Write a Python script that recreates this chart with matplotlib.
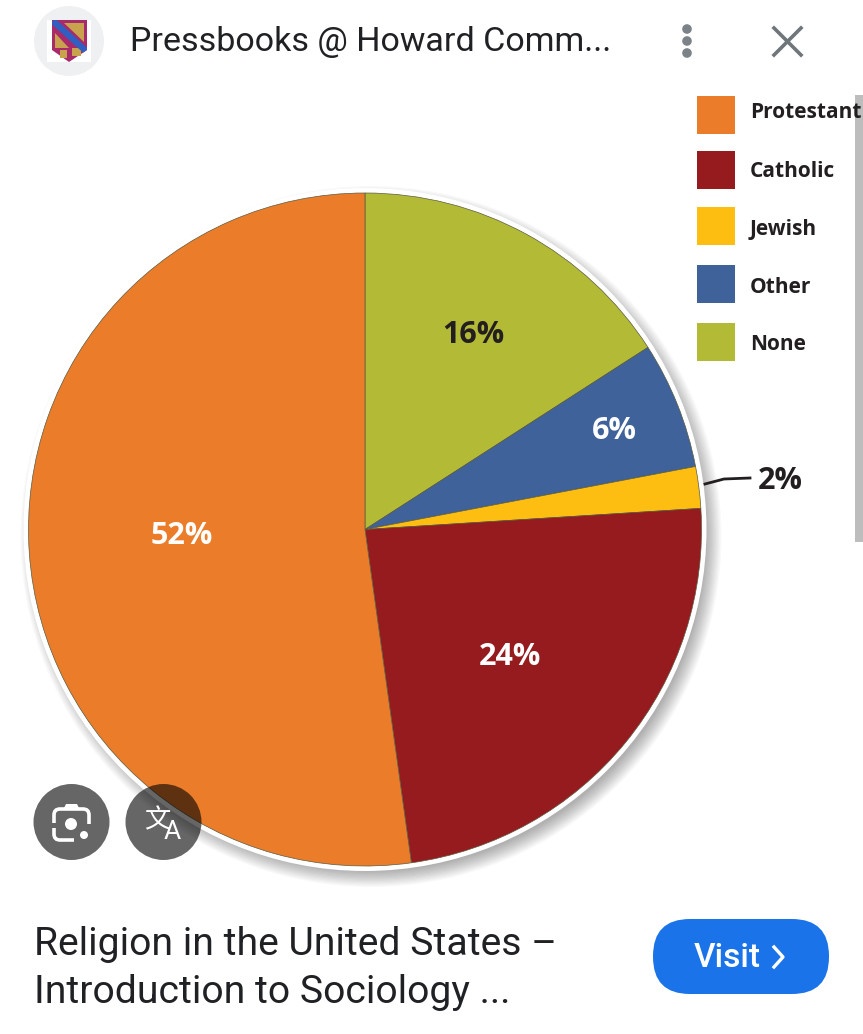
import matplotlib
matplotlib.use("Agg")
import matplotlib.pyplot as plt
from matplotlib.patches import Circle, FancyBboxPatch, Polygon, Rectangle

# Chart data
categories = ["None", "Other", "Jewish", "Catholic", "Protestant"]
shares = [15.9, 6.1, 2, 23.8, 52.2]
share_labels = ["16%", "6%", "2%", "24%", "52%"]
slice_colors = ["#b3ba36", "#3e6299", "#fdbe11", "#961b1f", "#eb7d2a"]
legend_order = ["Protestant", "Catholic", "Jewish", "Other", "None"]
header_title = "Pressbooks @ Howard Comm..."
page_title = ["Religion in the United States \u2013", "Introduction to Sociology ..."]

W, H = 863, 1034
CX, CY, R = 365, 504.5, 336.5

fig = plt.figure(figsize=(W / 100, H / 100), dpi=100)
ax = fig.add_axes([0, 0, 1, 1])
ax.set_axis_off()

# Shadow and white rim under the pie
for i in range(14):
    ax.add_patch(Circle((CX + 6, CY - 7), R + 14 - i * 1.2, fc="black", ec="none", alpha=0.024, zorder=1))
ax.add_patch(Circle((CX, CY), R + 5, fc="white", ec="none", zorder=2))

wedges, _ = ax.pie(shares, colors=slice_colors, startangle=90, counterclock=False,
                   center=(CX, CY), radius=R, frame=True,
                   wedgeprops={"edgecolor": "#5a5a40", "linewidth": 0.5, "zorder": 3})
ax.set_xlim(0, W)
ax.set_ylim(0, H)
ax.set_aspect("equal")
ax.set_axis_off()


def px(x, y):
    return x, H - y


# Percent labels
pct_font = dict(family="Open Sans", fontweight="bold", fontsize=22, ha="center", va="baseline", zorder=6)
ax.text(*px(473, 343), share_labels[0], color="#231f20", **pct_font)
ax.text(*px(614, 439), share_labels[1], color="white", **pct_font)
ax.text(*px(780, 489), share_labels[2], color="#231f20", **pct_font)
ax.text(*px(510, 665), share_labels[3], color="white", **pct_font)
ax.text(*px(182, 544), share_labels[4], color="white", **pct_font)
ax.plot(*zip(px(705, 484), px(724, 479), px(750, 478)), color="#231f20", lw=2, zorder=6)

# Scrollbar
ax.add_patch(Rectangle(px(855, 542), 8, 447, fc="#bdbdbd", ec="none", zorder=5))

# Legend
legend_tops = [96, 151, 207, 265, 323]
legend_baselines = [118, 177, 235, 293, 350]
for name, top, base in zip(legend_order, legend_tops, legend_baselines):
    color = slice_colors[categories.index(name)]
    ax.add_patch(Rectangle(px(697, top + 38), 38, 38, fc=color, ec="none", zorder=6))
    ax.text(*px(750, base), name, family="Open Sans", fontweight="bold", fontsize=15,
            color="#231f20", ha="left", va="baseline", zorder=6)

# Header
ax.add_patch(Rectangle(px(0, 95), W, 95, fc="white", ec="none", zorder=8))
ax.add_patch(Circle(px(69, 41), 35, fc="#eef0f2", ec="none", zorder=9))
ax.add_patch(Rectangle(px(47, 62), 44, 42, fc="white", ec="none", zorder=9))
crest = Polygon([px(52, 20), px(87, 20), px(87, 50), px(69, 62), px(52, 50)], fc="#a82a6b", ec="none", zorder=10)
ax.add_patch(crest)
gold = "#c9a24e"
ax.add_patch(Polygon([px(55, 33), px(69, 48), px(55, 48)], fc=gold, ec="none", zorder=10))
ax.add_patch(Polygon([px(64, 23), px(84, 23), px(84, 42)], fc=gold, ec="none", zorder=10))
ax.add_patch(Rectangle(px(60, 58), 7, 8, fc=gold, ec="none", zorder=10))
ax.add_patch(Rectangle(px(72, 56), 9, 8, fc=gold, ec="none", zorder=10))
band, = ax.plot(*zip(px(53, 21), px(87, 52)), color="#2f5fc0", lw=4.5, solid_capstyle="butt", zorder=11)
band.set_clip_path(crest)
ax.text(*px(130, 51), header_title, family="Roboto", fontsize=24.5, color="#202124", ha="left", va="baseline", zorder=10)
for y in [29, 41, 53]:
    ax.add_patch(Circle(px(687, y), 4.8, fc="#7b8389", ec="none", zorder=10))
ax.plot(*zip(px(774, 28), px(801, 55)), color="#6f767b", lw=2.6, zorder=10)
ax.plot(*zip(px(801, 28), px(774, 55)), color="#6f767b", lw=2.6, zorder=10)

# Overlay buttons on the image
ax.add_patch(Circle(px(71.5, 822), 38, fc="black", ec="none", alpha=0.6, zorder=12))
ax.add_patch(Circle(px(163.5, 822), 38, fc="black", ec="none", alpha=0.6, zorder=12))
ax.add_patch(FancyBboxPatch(px(54, 840), 35, 31, boxstyle="round,pad=0,rounding_size=6", fc="none", ec="white", lw=2.6, zorder=13))
ax.add_patch(Polygon([px(63, 810), px(66, 804), px(77, 804), px(80, 810)], fc="white", ec="none", zorder=13))
ax.add_patch(Rectangle(px(49, 828), 9, 5, fc="#666666", ec="none", zorder=14))
ax.add_patch(Rectangle(px(74, 845), 20, 21, fc="#666666", ec="none", zorder=14))
ax.add_patch(Circle(px(71, 824), 6, fc="white", ec="none", zorder=15))
ax.add_patch(Circle(px(84, 835), 4, fc="white", ec="none", zorder=15))
ax.text(*px(157, 821), "\u6587", family="Noto Sans CJK SC", fontsize=19, color="white", ha="center", va="center", zorder=13)
ax.text(*px(172.5, 832), "A", family="Roboto", fontsize=19, color="white", ha="center", va="center", zorder=13)

# Footer
ax.add_patch(Rectangle(px(0, H), W, H - 890, fc="white", ec="none", zorder=5))
ax.text(*px(34, 955), page_title[0], family="Roboto", fontsize=28.2, color="#202124", ha="left", va="baseline", zorder=10)
ax.text(*px(34, 1003), page_title[1], family="Roboto", fontsize=28.2, color="#202124", ha="left", va="baseline", zorder=10)
ax.add_patch(FancyBboxPatch(px(653 + 37, 994 - 37), 176 - 74, 1, boxstyle="round,pad=37", fc="#1a73e8", ec="none", zorder=10))
ax.text(*px(727, 967), "Visit", family="Roboto", fontweight="medium", fontsize=24, color="white", ha="center", va="baseline", zorder=11)
ax.plot(*zip(px(774, 947), px(783, 957), px(774, 967)), color="white", lw=2.4, zorder=11)

fig.savefig("out.png", dpi=100)
